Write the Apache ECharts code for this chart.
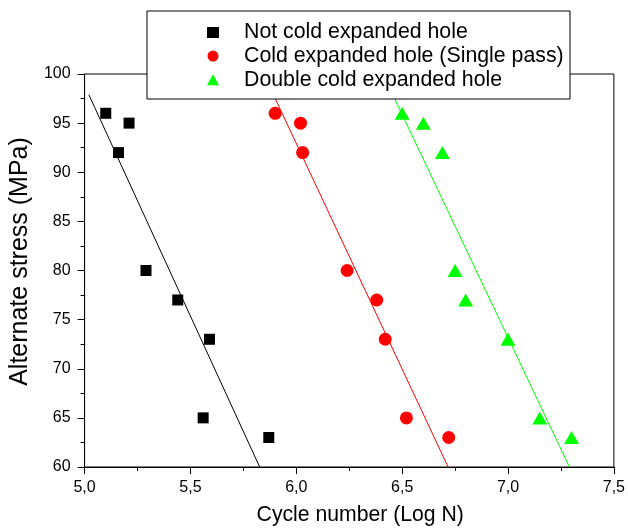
<!DOCTYPE html>
<html>
<head>
<meta charset="utf-8">
<script src="https://cdn.jsdelivr.net/npm/echarts@6/dist/echarts.min.js"></script>
<style>html,body{margin:0;padding:0;background:#fff}#c{width:628px;height:531px}</style>
</head>
<body>
<div id="c"></div>
<script>
// Data
const seriesNames = ["Not cold expanded hole", "Cold expanded hole (Single pass)", "Double cold expanded hole"];
const notColdX = [5.10, 5.21, 5.16, 5.29, 5.44, 5.59, 5.56, 5.87];
const notColdY = [96, 95, 92, 80, 77, 73, 65, 63];
const singleX = [5.90, 6.02, 6.03, 6.24, 6.38, 6.42, 6.52, 6.72];
const singleY = [96, 95, 92, 80, 77, 73, 65, 63];
const doubleX = [6.50, 6.60, 6.69, 6.75, 6.80, 7.00, 7.15, 7.30];
const doubleY = [96, 95, 92, 80, 77, 73, 65, 63];
// fitted line endpoints [x, y]
const notColdFit = [[5.02, 97.9], [5.827, 60]];
const singleFit = [[5.846, 100], [6.717, 60]];
const doubleFit = [[6.409, 100], [7.29, 60]];

const FONT = "Liberation Sans";
const zip = (xs, ys) => xs.map((x, i) => [x, ys[i]]);

const chart = echarts.init(document.getElementById('c'), null, {renderer: 'canvas'});
chart.setOption({
  animation: false,
  backgroundColor: '#fff',
  grid: {left: 83, right: 12, top: 74, bottom: 64, show: true, borderColor: '#000', borderWidth: 1, backgroundColor: 'transparent'},
  graphic: [{
    type: 'rect', z: 3, zlevel: 0,
    shape: {x: 147, y: 11, width: 423, height: 88},
    style: {fill: '#fff', stroke: '#000', lineWidth: 1}
  }],
  legend: {
    z: 10,
    orient: 'vertical',
    left: 147, top: 11,
    padding: [11, 0, 0, 60],
    itemWidth: 12, itemHeight: 11, itemGap: 2.6,
    symbolKeepAspect: true,
    data: seriesNames,
    textStyle: {fontFamily: FONT, fontSize: 21.3, color: '#000', lineHeight: 21, padding: [0, 0, 0, 20]}
  },
  xAxis: {
    type: 'value', min: 5, max: 7.5, interval: 0.5,
    name: 'Cycle number (Log N)', nameLocation: 'middle', nameGap: 38,
    nameTextStyle: {fontFamily: FONT, fontSize: 21.2, color: '#000', padding: [0, 0, 0, 22]},
    axisLine: {lineStyle: {color: '#000', width: 1}},
    axisTick: {show: true, inside: false, length: 7, lineStyle: {color: '#000'}},
    minorTick: {show: true, splitNumber: 2, length: 4, lineStyle: {color: '#000'}},
    splitLine: {show: false},
    axisLabel: {fontFamily: FONT, fontSize: 16, color: '#000', margin: 13,
      formatter: v => v.toFixed(1).replace('.', ',')}
  },
  yAxis: {
    type: 'value', min: 60, max: 100, interval: 5,
    name: 'Alternate stress (MPa)', nameLocation: 'middle', nameGap: 45,
    nameTextStyle: {fontFamily: FONT, fontSize: 25, color: '#000', padding: [0, 0, 0, 18]},
    axisLine: {show: true, lineStyle: {color: '#000', width: 1}},
    axisTick: {show: true, inside: false, length: 7, lineStyle: {color: '#000'}},
    minorTick: {show: true, splitNumber: 2, length: 4, lineStyle: {color: '#000'}},
    splitLine: {show: false},
    axisLabel: {fontFamily: FONT, fontSize: 16, color: '#000', margin: 14}
  },
  series: [
    {type: 'line', name: 'fit1', data: notColdFit, symbol: 'none', lineStyle: {color: '#000', width: 1}, z: 2, silent: true},
    {type: 'line', name: 'fit2', data: singleFit, symbol: 'none', lineStyle: {color: '#ff0000', width: 1}, z: 2, silent: true},
    {type: 'line', name: 'fit3', data: doubleFit, symbol: 'none', lineStyle: {color: '#00ff00', width: 1}, z: 2, silent: true},
    {type: 'scatter', name: seriesNames[0], data: zip(notColdX, notColdY), symbol: 'rect', symbolSize: 11, itemStyle: {color: '#000', opacity: 1}, z: 2},
    {type: 'scatter', name: seriesNames[1], data: zip(singleX, singleY), symbol: 'circle', symbolSize: 13, itemStyle: {color: '#ff0000', opacity: 1}, z: 2},
    {type: 'scatter', name: seriesNames[2], data: zip(doubleX, doubleY), symbol: 'triangle', symbolSize: [15, 13], itemStyle: {color: '#00ff00', opacity: 1}, z: 2}
  ]
});
</script>
</body>
</html>
